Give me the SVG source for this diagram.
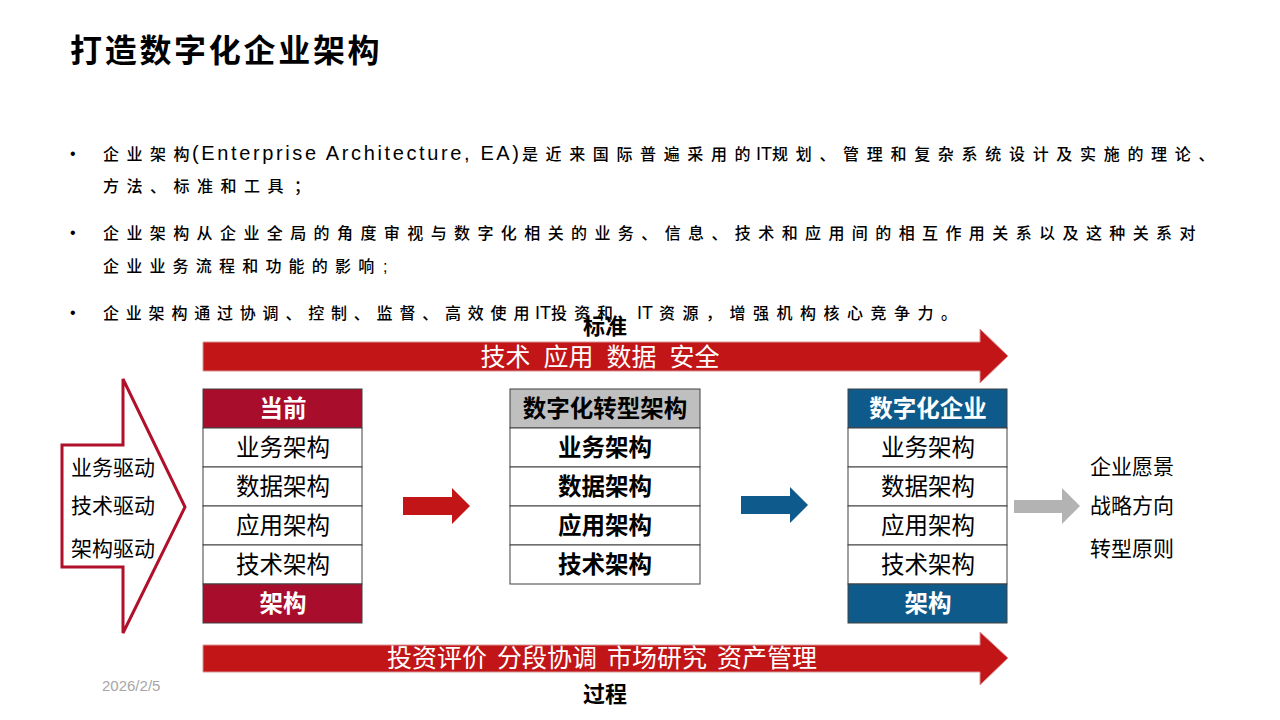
<svg xmlns="http://www.w3.org/2000/svg" width="1280" height="720" viewBox="0 0 1280 720">
<style>
text{font-family:"Liberation Sans","Noto Sans CJK SC",sans-serif;}
.bul{font-family:"Noto Sans CJK SC",sans-serif;font-size:16px;font-weight:500;fill:#000;letter-spacing:7.5px;}
.en{font-family:"Liberation Sans",sans-serif;fill:#000;}
.dot{font-size:16px;fill:#000;}
.cell{fill:#fff;stroke:#404040;stroke-width:1;}
.ct{font-size:23.5px;fill:#000;text-anchor:middle;dominant-baseline:central;}
.cb{font-size:23.5px;font-weight:bold;text-anchor:middle;dominant-baseline:central;}
.side{font-size:21px;fill:#000;}
.arr{fill:#C21518;stroke:#D99494;stroke-width:1;}
.at{font-size:25px;fill:#fff;text-anchor:middle;}
.lbl{font-size:22px;font-weight:bold;fill:#000;text-anchor:middle;}
</style>
<rect width="1280" height="720" fill="#fff"/>
<text x="70" y="62" font-size="32" font-weight="bold" letter-spacing="2.7" fill="#000">打造数字化企业架构</text>
<g id="bullets">
<text class="dot" x="70" y="159">•</text>
<text class="bul" x="103" y="160">企业架构</text>
<text class="en" x="192" y="160" font-size="20" textLength="327" lengthAdjust="spacing">(Enterprise Architecture, EA)</text>
<text class="bul" x="522" y="160" textLength="236" lengthAdjust="spacing">是近来国际普遍采用的</text>
<text class="en" x="756" y="160" font-size="18">IT</text>
<text class="bul" x="772" y="160" textLength="450" lengthAdjust="spacing">规划、管理和复杂系统设计及实施的理论、</text>
<text class="bul" x="103" y="192">方法、标准和工具</text>
<text class="bul" x="294" y="192">；</text>
<text class="dot" x="70" y="238">•</text>
<text class="bul" x="103" y="239" textLength="1100" lengthAdjust="spacing">企业架构从企业全局的角度审视与数字化相关的业务、信息、技术和应用间的相互作用关系以及这种关系对</text>
<text class="bul" x="103" y="272" style="letter-spacing:7.2px">企业业务流程和功能的影响</text>
<text class="en" x="383" y="272" font-size="16">;</text>
<text class="dot" x="70" y="318">•</text>
<text class="bul" x="103" y="319" style="letter-spacing:6.8px">企业架构通过协调、控制、监督、高效使用</text>
<text class="en" x="535" y="319" font-size="18">IT</text>
<text class="bul" x="551" y="319" style="letter-spacing:7px">投资和</text>
<text class="en" x="637" y="319" font-size="18">IT</text>
<text class="bul" x="659" y="319">资源，增强机构核心竞争力。</text>
</g>
<g id="connectors">
<path class="arr" d="M203,342 H980 V329 L1008,356 L980,383 V371 H203 Z"/>
<path class="arr" d="M203,645 H980 V632 L1008,658 L980,685 V672 H203 Z"/>
<path d="M403,497 H452 V488 L470,506 L452,524 V515 H403 Z" fill="#C21518"/>
<path d="M741,496 H790 V487 L808,505 L790,523 V514 H741 Z" fill="#0F5A8C"/>
<path d="M1014,500 H1062 V488 L1080,506 L1062,524 V513 H1014 Z" fill="#B3B3B3"/>
</g>
<g id="standard-arrow">
<text class="lbl" x="605" y="334">标准</text>
<text class="at" x="600" y="366" word-spacing="6">技术 应用 数据 安全</text>
</g>
<g id="process-arrow">
<text class="at" x="602" y="667" word-spacing="3">投资评价 分段协调 市场研究 资产管理</text>
<text class="lbl" x="605" y="702">过程</text>
</g>
<text x="102" y="691" font-size="15" fill="#A6A6A6">2026/2/5</text>
<g id="drivers">
<path d="M62,445 H123 V379 L185,507 L123,633 V567 H62 Z" fill="#fff" stroke="#B0102A" stroke-width="3" stroke-linejoin="miter"/>
<text class="side" x="71" y="475">业务驱动</text>
<text class="side" x="71" y="513">技术驱动</text>
<text class="side" x="71" y="556">架构驱动</text>
</g>
<g id="current">
<rect x="203" y="389" width="159" height="39" fill="#A80D2B" stroke="#404040"/>
<rect class="cell" x="203" y="428" width="159" height="39"/>
<rect class="cell" x="203" y="467" width="159" height="39"/>
<rect class="cell" x="203" y="506" width="159" height="39"/>
<rect class="cell" x="203" y="545" width="159" height="39"/>
<rect x="203" y="584" width="159" height="39" fill="#A80D2B" stroke="#404040"/>
<text class="cb" x="283" y="409" fill="#fff">当前</text>
<text class="ct" x="283" y="448">业务架构</text>
<text class="ct" x="283" y="487">数据架构</text>
<text class="ct" x="283" y="526">应用架构</text>
<text class="ct" x="283" y="565">技术架构</text>
<text class="cb" x="283" y="604" fill="#fff">架构</text>
</g>
<g id="transform">
<rect x="510" y="389" width="190" height="39" fill="#BFBFBF" stroke="#404040"/>
<rect class="cell" x="510" y="428" width="190" height="39"/>
<rect class="cell" x="510" y="467" width="190" height="39"/>
<rect class="cell" x="510" y="506" width="190" height="39"/>
<rect class="cell" x="510" y="545" width="190" height="39"/>
<text class="cb" x="605" y="409" fill="#000" font-size="24">数字化转型架构</text>
<text class="cb" x="605" y="448" fill="#000">业务架构</text>
<text class="cb" x="605" y="487" fill="#000">数据架构</text>
<text class="cb" x="605" y="526" fill="#000">应用架构</text>
<text class="cb" x="605" y="565" fill="#000">技术架构</text>
</g>
<g id="digital">
<rect x="848" y="389" width="159" height="39" fill="#0E5A8A" stroke="#404040"/>
<rect class="cell" x="848" y="428" width="159" height="39"/>
<rect class="cell" x="848" y="467" width="159" height="39"/>
<rect class="cell" x="848" y="506" width="159" height="39"/>
<rect class="cell" x="848" y="545" width="159" height="39"/>
<rect x="848" y="584" width="159" height="39" fill="#0E5A8A" stroke="#404040"/>
<text class="cb" x="928" y="409" fill="#fff">数字化企业</text>
<text class="ct" x="928" y="448">业务架构</text>
<text class="ct" x="928" y="487">数据架构</text>
<text class="ct" x="928" y="526">应用架构</text>
<text class="ct" x="928" y="565">技术架构</text>
<text class="cb" x="928" y="604" fill="#fff">架构</text>
</g>
<g id="goals">
<text class="side" x="1090" y="474">企业愿景</text>
<text class="side" x="1090" y="513">战略方向</text>
<text class="side" x="1090" y="556">转型原则</text>
</g>
</svg>
